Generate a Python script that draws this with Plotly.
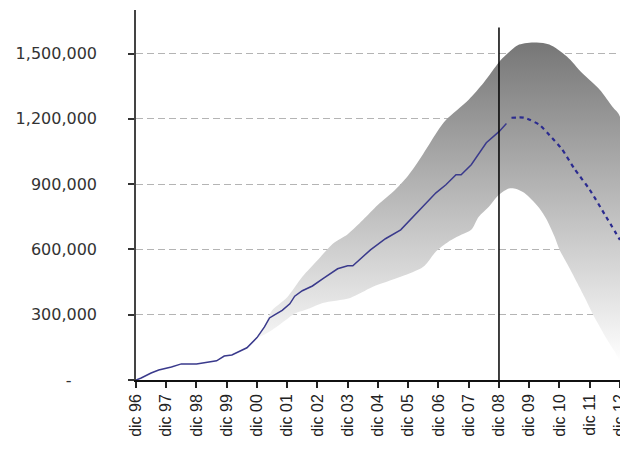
import plotly.graph_objects as go

# ---- data ----
actual_dates = ["1996-12-01", "1997-02-01", "1997-06-01", "1997-09-01", "1998-02-01", "1998-06-01",
                "1998-12-01", "1999-05-01", "1999-08-01", "1999-11-01", "2000-02-01", "2000-08-01",
                "2000-12-01", "2001-03-01", "2001-05-01", "2001-07-01", "2001-10-01", "2002-01-01",
                "2002-03-01", "2002-06-01", "2002-10-01", "2003-02-01", "2003-08-01", "2003-12-01",
                "2004-02-01", "2004-09-01", "2005-03-01", "2005-09-01", "2006-02-01", "2006-06-01",
                "2006-11-01", "2007-03-01", "2007-07-01", "2007-09-01", "2008-01-01", "2008-07-01",
                "2008-12-01", "2009-03-01"]
actual_values = [0, 9000, 32000, 46000, 60000, 74000,
                 74000, 83000, 88000, 110000, 115000, 148000,
                 195000, 244000, 285000, 299000, 320000, 350000,
                 385000, 410000, 432000, 465000, 511000, 525000,
                 525000, 598000, 649000, 690000, 750000, 796000,
                 860000, 897000, 943000, 943000, 989000, 1090000,
                 1141000, 1178000]

forecast_dates = ["2009-05-01", "2009-10-01", "2010-04-01", "2010-09-01", "2011-01-01",
                  "2011-06-01", "2011-12-01", "2012-06-01", "2012-12-01"]
forecast_values = [1205000, 1205000, 1173000, 1113000, 1060000,
                   970000, 875000, 760000, 644000]

upper_dates = ["2000-12-01", "2001-03-01", "2001-06-01", "2001-09-01", "2001-12-01", "2002-06-01",
               "2002-12-01", "2003-06-01", "2003-12-01", "2004-06-01", "2004-12-01", "2005-06-01",
               "2005-12-01", "2006-06-01", "2006-12-01", "2007-03-01", "2007-12-01", "2008-06-01",
               "2008-12-01", "2009-03-01", "2009-08-01", "2010-03-01", "2010-08-01", "2011-03-01",
               "2011-09-01", "2012-04-01", "2012-09-01", "2012-12-01"]
upper_values = [195000, 250000, 320000, 350000, 380000, 474000,
                550000, 625000, 670000, 735000, 805000, 865000,
                940000, 1040000, 1150000, 1195000, 1288000, 1367000,
                1460000, 1495000, 1541000, 1551000, 1541000, 1486000,
                1410000, 1334000, 1256000, 1210000]

lower_dates = ["2000-12-01", "2001-06-01", "2001-12-01", "2002-03-01", "2002-09-01", "2003-02-01",
               "2004-01-01", "2004-10-01", "2005-09-01", "2006-06-01", "2006-11-01", "2007-04-01",
               "2007-09-01", "2008-01-01", "2008-04-01", "2008-08-01", "2008-12-01", "2009-04-01",
               "2009-07-01", "2009-10-01", "2010-01-01", "2010-04-01", "2010-07-01", "2010-10-01",
               "2010-12-01", "2011-04-01", "2011-07-01", "2011-10-01", "2012-01-01", "2012-04-01",
               "2012-07-01", "2012-10-01", "2012-12-01"]
lower_values = [195000, 230000, 280000, 305000, 330000, 354000,
                377000, 428000, 474000, 520000, 590000, 635000,
                667000, 690000, 750000, 796000, 851000, 880000,
                878000, 860000, 828000, 790000, 736000, 660000,
                600000, 515000, 448000, 380000, 308000, 245000,
                184000, 130000, 92000]

tick_years = list(range(1996, 2013))
tick_dates = [f"{y}-12-01" for y in tick_years]
tick_labels = [f"dic {y % 100:02d}" for y in tick_years]

y_ticks = [0, 300000, 600000, 900000, 1200000, 1500000]
y_labels = ["-\u00a0\u00a0\u00a0\u00a0\u00a0", "300,000", "600,000", "900,000", "1,200,000", "1,500,000"]

forecast_start = "2008-12-01"
marker_top = 1620000
x_range = ["1996-11-30 12:00", "2012-12-01 12:00"]

fig = go.Figure()

fig.add_trace(go.Scatter(
    x=upper_dates + lower_dates[::-1],
    y=upper_values + lower_values[::-1],
    fill="toself",
    mode="lines",
    line=dict(width=0, shape="spline", smoothing=0.8),
    fillgradient=dict(type="vertical",
                      colorscale=[[0, "#ffffff"], [1, "#767676"]],
                      start=80000, stop=1555000),
    hoverinfo="skip",
    showlegend=False,
))

fig.add_trace(go.Scatter(
    x=actual_dates, y=actual_values, mode="lines",
    line=dict(color="#3a3a8c", width=1.5),
    showlegend=False,
))

fig.add_trace(go.Scatter(
    x=forecast_dates, y=forecast_values, mode="lines",
    line=dict(color="#2b2b8f", width=2.2, dash="4px,4px", shape="spline", smoothing=0.6),
    showlegend=False,
))

fig.add_shape(type="line", xref="x", yref="y",
              x0=forecast_start, x1=forecast_start, y0=0, y1=marker_top,
              line=dict(color="#000000", width=1.5), layer="above")

fig.update_layout(
    width=628, height=444,
    margin=dict(l=128, r=16, t=2, b=72),
    paper_bgcolor="white", plot_bgcolor="white",
    xaxis=dict(
        type="date",
        range=x_range,
        tickmode="array", tickvals=tick_dates, ticktext=tick_labels,
        tickangle=-90,
        ticks="outside", ticklen=6, tickcolor="#222", tickwidth=1.5,
        showline=True, linecolor="#111", linewidth=1.5,
        showgrid=False, zeroline=False,
        ticklabeloverflow="allow",
        tickfont=dict(family="Liberation Sans, Arial, sans-serif", size=16, color="#222"),
    ),
    yaxis=dict(
        range=[0, 1700000],
        tickmode="array", tickvals=y_ticks, ticktext=y_labels,
        ticks="outside", ticklen=6, tickcolor="#333", tickwidth=1.5,
        showline=True, linecolor="#444", linewidth=1.5,
        showgrid=True, gridcolor="#b4b4b4", gridwidth=1, griddash="7px,4px",
        zeroline=False,
        ticklabelstandoff=28,
        tickfont=dict(family="DejaVu Sans, Verdana, sans-serif", size=16, color="#333"),
    ),
)

fig.write_html("out.html")
